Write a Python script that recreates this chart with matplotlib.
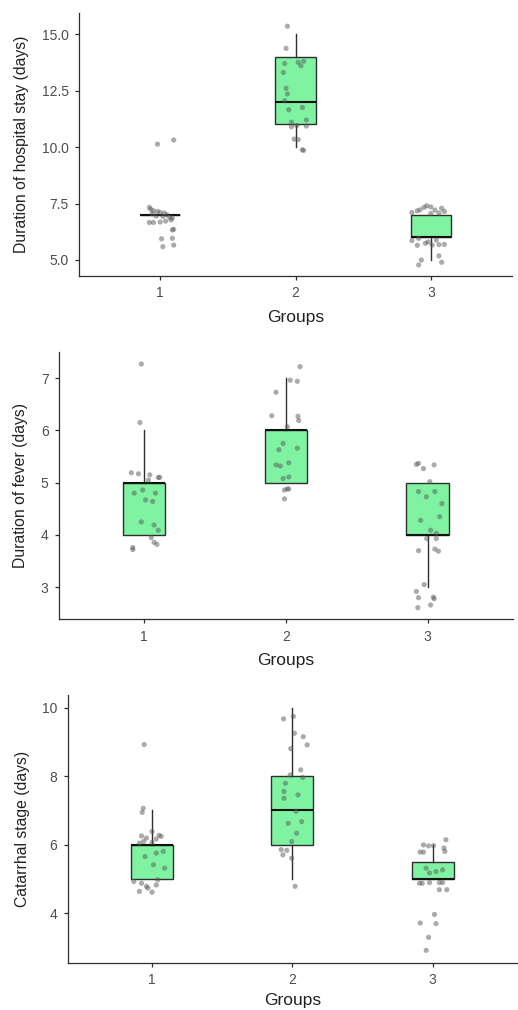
"""Three stacked box plots with jittered points (hospital stay, fever, catarrhal stage)."""

import matplotlib
matplotlib.use("Agg")
import matplotlib.pyplot as plt

plt.rcParams["font.family"] = ["Liberation Sans", "DejaVu Sans"]

GROUPS = [1, 2, 3]
GROUP_LABELS = ["1", "2", "3"]

# box summary stats per panel: (whislo, q1, med, q3, whishi) for each group
STAY_STATS = [(7, 7, 7, 7, 7), (10, 11, 12, 14, 15), (5, 6, 6, 7, 7)]
FEVER_STATS = [(4, 4, 5, 5, 6), (5, 5, 6, 6, 7), (3, 4, 4, 5, 5)]
CATARRH_STATS = [(5, 5, 6, 6, 7), (5, 6, 7, 8, 10), (5, 5, 5, 5.5, 6)]

# jittered points: x offset from group centre, y value
STAY_DX = [
    [-0.02, 0.10, -0.08, -0.07, -0.05, -0.02, 0.00, 0.03, -0.06, 0.05, -0.03, 0.02, 0.07,
     0.09, -0.08, -0.05, 0.00, 0.04, 0.08, 0.10, 0.09, 0.01, 0.09, 0.02, 0.10],
    [-0.06, -0.07, 0.06, 0.02, -0.08, 0.04, -0.09, -0.07, -0.06, -0.08, 0.05, -0.05, 0.08,
     -0.03, -0.03, 0.01, 0.08, -0.01, 0.02, 0.05, 0.06],
    [-0.03, -0.05, 0.00, -0.10, -0.14, 0.08, 0.03, 0.00, -0.08, 0.06, 0.10, -0.14, -0.09,
     -0.04, 0.01, 0.06, 0.10, -0.10, -0.02, 0.04, -0.07, -0.09, 0.06, 0.08],
]
STAY_Y = [
    [10.13, 10.31, 7.33, 7.25, 7.18, 7.15, 7.10, 7.08, 7.05, 7.00, 6.95, 6.93, 6.90,
     6.85, 6.66, 6.66, 6.68, 6.72, 6.78, 6.36, 6.33, 5.94, 5.96, 5.59, 5.66],
    [15.35, 14.37, 13.80, 13.75, 13.70, 13.60, 13.30, 12.60, 12.35, 12.05, 11.75, 11.65, 11.20,
     11.10, 10.90, 10.95, 10.93, 10.35, 10.33, 9.88, 9.85],
    [7.40, 7.33, 7.35, 7.18, 7.10, 7.29, 7.21, 7.06, 7.22, 7.08, 7.15, 5.86, 5.96,
     5.74, 5.66, 5.68, 5.69, 5.65, 5.80, 5.88, 5.00, 4.78, 5.18, 4.90],
]

FEVER_DX = [
    [-0.02, -0.03, -0.09, -0.04, 0.04, 0.10, 0.11, 0.03, -0.07, -0.01, 0.08, 0.06, 0.01,
     -0.02, 0.07, 0.10, 0.05, 0.07, 0.09, -0.08, -0.08],
    [0.10, 0.03, 0.08, -0.07, -0.10, 0.085, 0.09, 0.01, -0.02, 0.08, -0.05, 0.02, -0.07,
     -0.04, 0.02, -0.02, 0.02, 0.01, -0.01, -0.01],
    [-0.065, -0.08, -0.03, 0.045, 0.015, -0.065, -0.01, 0.05, 0.10, -0.05, 0.085, 0.02,
     0.06, -0.007, 0.06, -0.065, 0.05, 0.075, -0.025, -0.08, -0.065, 0.04, 0.045, 0.02, -0.07],
]
FEVER_Y = [
    [7.27, 6.15, 5.19, 5.17, 5.15, 5.10, 5.10, 5.05, 4.80, 4.86, 4.80, 4.64, 4.67,
     4.25, 4.19, 4.09, 3.95, 3.86, 3.82, 3.76, 3.72],
    [7.22, 6.96, 6.94, 6.73, 6.28, 6.27, 6.19, 6.07, 5.75, 5.66, 5.63, 5.38, 5.34,
     5.32, 5.11, 5.08, 4.88, 4.88, 4.86, 4.69],
    [5.37, 5.35, 5.27, 5.34, 5.02, 4.83, 4.73, 4.83, 4.60, 4.28, 4.35, 4.09,
     4.03, 3.93, 3.93, 3.70, 3.73, 3.69, 3.05, 2.92, 2.80, 2.81, 2.78, 2.66, 2.61],
]

CATARRH_DX = [
    [-0.056, -0.063, -0.07, 0.00, -0.075, -0.04, 0.05, 0.065, 0.03, -0.06, 0.00, -0.09,
     -0.05, 0.03, 0.08, 0.01, 0.09, -0.13, -0.075, 0.04, 0.03, -0.04, -0.03, -0.09, 0.00],
    [-0.063, 0.007, 0.014, 0.077, 0.105, -0.012, 0.059, -0.016, 0.073, -0.05, -0.06, -0.06,
     0.04, 0.026, -0.03, 0.066, 0.03, -0.005, -0.08, -0.04, -0.068, -0.005, 0.019],
    [0.094, -0.066, -0.03, 0.005, -0.09, -0.066, 0.08, 0.086, -0.047, 0.023, 0.07, -0.023,
     -0.094, -0.075, -0.023, 0.047, 0.07, 0.047, 0.1, 0.012, -0.089, 0.023, -0.03, -0.047],
]
CATARRH_Y = [
    [8.92, 7.06, 6.94, 6.38, 6.25, 6.19, 6.27, 6.24, 6.16, 6.09, 6.06, 6.04,
     5.65, 5.75, 5.80, 5.41, 5.31, 4.92, 4.87, 4.97, 4.82, 4.78, 4.73, 4.63, 4.61],
    [9.67, 9.74, 9.25, 9.15, 8.91, 8.80, 8.18, 8.03, 7.96, 7.79, 7.55, 7.35,
     7.45, 6.97, 6.62, 6.67, 6.33, 6.09, 5.85, 5.83, 5.70, 5.60, 4.78],
    [6.14, 5.99, 5.96, 5.97, 5.78, 5.78, 5.90, 5.80, 5.31, 5.21, 5.26, 5.17,
     4.87, 4.87, 4.89, 4.89, 4.89, 4.68, 4.68, 3.96, 3.71, 3.69, 3.29, 2.91],
]

PANELS = [
    dict(stats=STAY_STATS, dx=STAY_DX, y=STAY_Y, ylabel="Duration of hospital stay (days)",
         ylim=(4.29, 15.93), yticks=[5.0, 7.5, 10.0, 12.5, 15.0], fmt="{:.1f}",
         rect=[0.1525, 0.7267, 0.836, 0.2603], xpad=7),
    dict(stats=FEVER_STATS, dx=FEVER_DX, y=FEVER_Y, ylabel="Duration of fever (days)",
         ylim=(2.39, 7.5), yticks=[3, 4, 5, 6, 7], fmt="{:.0f}",
         rect=[0.114, 0.387, 0.876, 0.2645], xpad=7),
    dict(stats=CATARRH_STATS, dx=CATARRH_DX, y=CATARRH_Y, ylabel="Catarrhal stage (days)",
         ylim=(2.54, 10.37), yticks=[4, 6, 8, 10], fmt="{:.0f}",
         rect=[0.131, 0.0465, 0.867, 0.2655], xpad=4),
]

BOX_FILL = "#80f3a2"
EDGE = "#2e2e2e"
POINT = "#585858"
TICK_TXT = "#4d4d4d"
LABEL_TXT = "#222222"


def draw_panel(fig, p):
    ax = fig.add_axes(p["rect"])
    bxp_stats = []
    for (lo, q1, med, q3, hi), g in zip(p["stats"], GROUP_LABELS):
        bxp_stats.append(dict(whislo=lo, q1=q1, med=med, q3=q3, whishi=hi, label=g, fliers=[]))

    ax.bxp(
        bxp_stats,
        positions=GROUPS,
        widths=0.3,
        patch_artist=True,
        showfliers=False,
        showcaps=False,
        boxprops=dict(facecolor=BOX_FILL, edgecolor=EDGE, linewidth=1.0),
        whiskerprops=dict(color=EDGE, linewidth=1.0),
        medianprops=dict(color="#111111", linewidth=1.5),
        zorder=2,
    )

    for g, dxs, ys in zip(GROUPS, p["dx"], p["y"]):
        xs = [g + d for d in dxs]
        ax.scatter(xs, ys, s=14, color=POINT, alpha=0.5, edgecolors="none", zorder=3)

    ax.set_xlim(0.4, 3.6)
    ax.set_ylim(*p["ylim"])
    ax.set_xticks(GROUPS)
    ax.set_xticklabels(GROUP_LABELS)
    ax.set_yticks(p["yticks"])
    ax.set_yticklabels([p["fmt"].format(v) for v in p["yticks"]])

    for side in ("top", "right"):
        ax.spines[side].set_visible(False)
    for side in ("left", "bottom"):
        ax.spines[side].set_color(EDGE)
        ax.spines[side].set_linewidth(0.9)

    ax.tick_params(axis="both", length=3, width=0.9, color=EDGE, pad=4.5,
                   labelsize=10, labelcolor=TICK_TXT)
    ax.set_xlabel("Groups", fontsize=12.5, color=LABEL_TXT, labelpad=p["xpad"])
    ax.set_ylabel(p["ylabel"], fontsize=11.3, color=LABEL_TXT, labelpad=9)
    return ax


fig = plt.figure(figsize=(5.18, 10.10), dpi=100)
fig.patch.set_facecolor("white")
for panel in PANELS:
    draw_panel(fig, panel)

fig.savefig("out.png", dpi=100, facecolor="white")
